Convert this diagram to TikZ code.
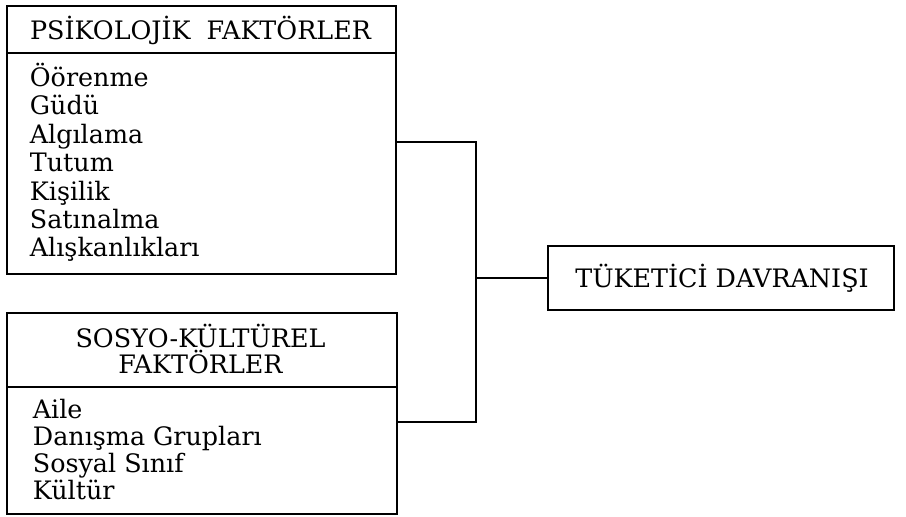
\documentclass[tikz,border=0pt]{standalone}
\usepackage{fontspec}
\setmainfont{DejaVu Serif}
\begin{document}
\begin{tikzpicture}[x=0.5pt,y=-0.5pt, line width=0.9pt,
  frame/.style={draw, inner sep=0pt, anchor=north west},
  txt/.style={font=\fontsize{12.7}{14}\selectfont, inner sep=0pt},
  item/.style={txt, anchor=base west}]
\useasboundingbox (0,0) rectangle (906,516);
% psychological factors box
\node[frame, minimum width=194.5pt, minimum height=134pt] (psy) at (6,5) {};
\node[txt, anchor=base] (psyh) at (200.5,39) {PSİKOLOJİK\ \ FAKTÖRLER};
\coordinate (psyd) at (0,53);
\draw (psy.west |- psyd) -- (psy.east |- psyd);
\foreach \t [count=\i from 0] in {Öörenme,Güdü,Algılama,Tutum,Kişilik,Satınalma,Alışkanlıkları}
  \node[item] (p\i) at (29,{86.5+28.4*\i}) {\t};
% socio-cultural factors box
\node[frame, minimum width=195pt, minimum height=100.5pt] (soc) at (6,312) {};
\node[txt, anchor=base] (soch1) at (200.5,347) {SOSYO-KÜLTÜREL};
\node[txt, anchor=base] (soch2) at (200.5,373) {FAKTÖRLER};
\coordinate (socd) at (0,387);
\draw (soc.west |- socd) -- (soc.east |- socd);
\foreach \t [count=\i from 0] in {Aile,Danışma Grupları,Sosyal Sınıf,Kültür}
  \node[item] (s\i) at (32,{418+27.3*\i}) {\t};
% consumer behaviour box
\node[frame, minimum width=173pt, minimum height=32pt] (tuk) at (547,245) {};
\node[txt, anchor=base] (tukt) at (722,287) {TÜKETİCİ DAVRANIŞI};
% connectors
\coordinate (jt) at (476,142);
\coordinate (jb) at (476,422);
\draw (psy.east |- jt) -- (jt) -- (jb) -- (soc.east |- jb);
\draw (tuk.west) -- (tuk.west -| jt);
\end{tikzpicture}
\end{document}
